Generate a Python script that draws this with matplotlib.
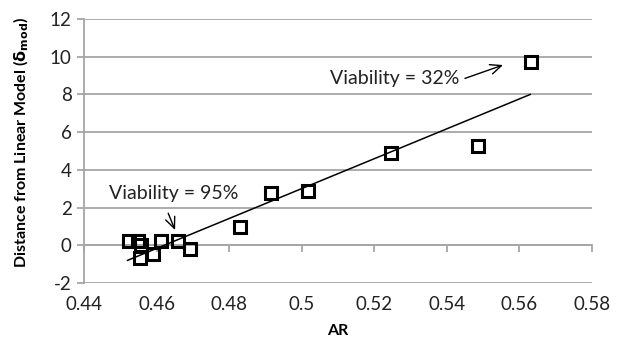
import matplotlib as mpl
mpl.use('Agg')
import matplotlib.pyplot as plt

# data
ar = [0.4523, 0.4550, 0.4556, 0.4555, 0.4590, 0.4612, 0.4660, 0.4691,
      0.4830, 0.4914, 0.5017, 0.5245, 0.5487, 0.5632]
dmod = [0.22, 0.25, 0.0, -0.70, -0.45, 0.22, 0.22, -0.20,
        0.95, 2.76, 2.88, 4.91, 5.27, 9.72]

# linear trend line end points
fit_x = [0.452, 0.563]
fit_y = [-0.80, 8.00]

x_ticks = [0.44, 0.46, 0.48, 0.5, 0.52, 0.54, 0.56, 0.58]
x_labels = ['0.44', '0.46', '0.48', '0.5', '0.52', '0.54', '0.56', '0.58']
y_ticks = [-2, 0, 2, 4, 6, 8, 10, 12]

# annotations: label text, label position, arrow tail, arrow tip
notes = ['Viability = 95%', 'Viability = 32%']
note_xy = [(0.4648, 2.72), (0.5257, 8.87)]
tail_xy = [(0.4632, 1.70), (0.5450, 8.85)]
tip_xy = [(0.4651, 0.81), (0.5555, 9.56)]

plt.rcParams['font.family'] = ['Lato', 'DejaVu Sans']
plt.rcParams['axes.unicode_minus'] = False
grid_col = '#a6a6a6'

fig = plt.figure(figsize=(6.2, 3.53), dpi=100)
ax = fig.add_axes([0.1355, 0.1983, 0.8193, 0.7479])

ax.set_xlim(0.44, 0.58)
ax.set_ylim(-2, 12)
ax.set_yticks(y_ticks)
ax.set_xticks(x_ticks)
ax.set_xticklabels(x_labels)
ax.grid(axis='y', color=grid_col, lw=1.3)
ax.set_axisbelow(True)
for s in ['top', 'right', 'bottom']:
    ax.spines[s].set_visible(False)
ax.spines['left'].set_color(grid_col)
ax.spines['left'].set_linewidth(1.3)
ax.tick_params(axis='y', colors=grid_col, length=5, width=1.3, labelcolor='#222222',
               labelsize=13.5, pad=4)
ax.tick_params(axis='x', length=0, labelsize=13.5, labelcolor='#222222', pad=9)

# x axis line crosses at y = 0 (Excel style), ticks only
sec = ax.secondary_xaxis(2 / 14)
sec.set_xticks(x_ticks)
sec.tick_params(axis='x', colors=grid_col, length=5, width=1.3, direction='out',
                labelbottom=False, labeltop=False, bottom=True, top=False)
sec.spines['bottom'].set_color(grid_col)
sec.spines['bottom'].set_linewidth(1.3)

ax.plot(fit_x, fit_y, color='black', lw=1.1, zorder=3)
ax.plot(ar, dmod, 's', ms=8.5, mfc='none', mec='black', mew=2.2,
        linestyle='none', zorder=4)

for txt, pos, tail, tip in zip(notes, note_xy, tail_xy, tip_xy):
    ax.text(pos[0], pos[1], txt, ha='center', va='center', fontsize=14,
            color='#222222')
    ax.annotate('', xy=tip, xytext=tail,
                arrowprops=dict(arrowstyle='->,head_length=0.8,head_width=0.35',
                                color='black', lw=1.0, shrinkA=0, shrinkB=0))

ax.set_xlabel('AR', fontsize=11.5, fontweight='bold', labelpad=8)
ax.set_ylabel(r'Distance from Linear Model ($\mathbf{\delta_{mod}}$)', fontsize=11.5,
              fontweight='bold')
ax.yaxis.set_label_coords(-0.104, 0.535)

fig.savefig('out.png', dpi=100)
